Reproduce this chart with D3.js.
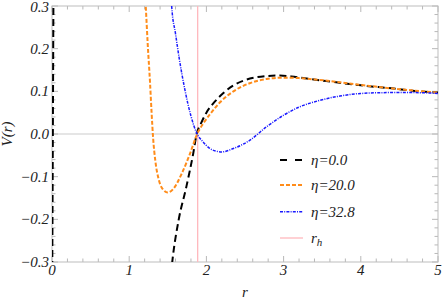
<!DOCTYPE html>
<meta charset="utf-8">
<script src="https://d3js.org/d3.v7.min.js"></script>
<style>
  body { margin: 0; background: #fff; }
  text { font-family: "Liberation Serif", "Times New Roman", "DejaVu Serif", serif; font-style: italic; fill: #222; }
</style>
<div id="chart"></div>
<script>

// values: [r, V(r)]
var eta0_inner = [[0.003, -0.34], [0.019, 0.34]];
var eta0 = [[1.54, -0.33], [1.56, -0.296], [1.64, -0.202], [1.74, -0.124], [1.83, -0.045], [1.874, 0],
    [1.93, 0.025], [2.0, 0.05], [2.1, 0.074], [2.22, 0.096], [2.35, 0.114], [2.48, 0.125], [2.62, 0.132],
    [2.8, 0.136], [2.95, 0.137], [3.1, 0.135], [3.3, 0.130], [3.6, 0.123], [4.0, 0.114], [4.4, 0.107],
    [4.7, 0.101], [5.0, 0.097]];
var eta20 = [[1.20, 0.34], [1.214, 0.3], [1.24, 0.21], [1.27, 0.12], [1.29, 0.05], [1.31, -0.01],
    [1.34, -0.065], [1.38, -0.105], [1.43, -0.128], [1.50, -0.137], [1.57, -0.129], [1.68, -0.093],
    [1.79, -0.045], [1.88, 0], [1.96, 0.025], [2.05, 0.047], [2.18, 0.075], [2.35, 0.1], [2.56, 0.119],
    [2.78, 0.129], [3.0, 0.132], [3.2, 0.131], [3.45, 0.127], [4.0, 0.115], [4.5, 0.105], [5.0, 0.097]];
var eta328 = [[1.54, 0.33], [1.55, 0.3], [1.60, 0.235], [1.65, 0.175], [1.72, 0.105], [1.80, 0.042],
    [1.88, 0], [1.95, -0.017], [2.03, -0.032], [2.12, -0.040], [2.2, -0.042], [2.35, -0.034],
    [2.56, -0.015], [2.78, 0.017], [3.0, 0.044], [3.2, 0.063], [3.45, 0.078], [3.73, 0.089],
    [4.0, 0.095], [4.35, 0.097], [4.7, 0.097], [5.0, 0.095]];
var rh = 1.887;

var xTicks = [0, 1, 2, 3, 4, 5];
var yTicks = [-0.3, -0.2, -0.1, 0.0, 0.1, 0.2, 0.3];
var legendLabels = ["η=0.0", "η=20.0", "η=32.8", "r_h"];

var W = 442, H = 300;
var margin = { top: 6, right: 4, bottom: 38, left: 52 },
    width = W - margin.left - margin.right,
    height = H - margin.top - margin.bottom;

var svg = d3.select("#chart").append("svg")
    .attr("width", W).attr("height", H);
var g = svg.append("g")
    .attr("transform", "translate(" + margin.left + "," + margin.top + ")");

var x = d3.scaleLinear().domain([0, 5]).range([0, width]);
var y = d3.scaleLinear().domain([-0.3, 0.3]).range([height, 0]);

g.append("clipPath").attr("id", "clip")
    .append("rect").attr("width", width).attr("height", height);

// zero line
g.append("line")
    .attr("x1", 0).attr("x2", width)
    .attr("y1", y(0)).attr("y2", y(0))
    .attr("stroke", "#dcdcdc").attr("stroke-width", 1.5);

// frame with inward ticks, Mathematica style
var tickCol = "#b8b8b8";
var xMinor = d3.range(0, 5.001, 0.2), yMinor = d3.range(-0.3, 0.3001, 0.02);
function isMajor(v, step) { return Math.abs(v / step - Math.round(v / step)) < 1e-6; }

g.selectAll(".xt").data(xMinor).enter().append("line")
    .attr("x1", function (d) { return x(d); }).attr("x2", function (d) { return x(d); })
    .attr("y1", height).attr("y2", function (d) { return height - (isMajor(d, 1) ? 6 : 3.5); })
    .attr("stroke", tickCol);
g.selectAll(".xtt").data(xMinor).enter().append("line")
    .attr("x1", function (d) { return x(d); }).attr("x2", function (d) { return x(d); })
    .attr("y1", 0).attr("y2", function (d) { return isMajor(d, 1) ? 6 : 3.5; })
    .attr("stroke", tickCol);
g.selectAll(".yt").data(yMinor).enter().append("line")
    .attr("y1", function (d) { return y(d); }).attr("y2", function (d) { return y(d); })
    .attr("x1", 0).attr("x2", function (d) { return isMajor(d, 0.1) ? 6 : 3.5; })
    .attr("stroke", tickCol);
g.selectAll(".ytr").data(yMinor).enter().append("line")
    .attr("y1", function (d) { return y(d); }).attr("y2", function (d) { return y(d); })
    .attr("x1", width).attr("x2", function (d) { return width - (isMajor(d, 0.1) ? 6 : 3.5); })
    .attr("stroke", tickCol);
g.append("rect").attr("width", width).attr("height", height)
    .attr("fill", "none").attr("stroke", "#bdbdbd");

// tick labels
g.selectAll(".xl").data(xTicks).enter().append("text")
    .attr("x", function (d) { return x(d); }).attr("y", height + 13)
    .attr("text-anchor", "middle").style("font-size", "15px")
    .text(function (d) { return d; });
g.selectAll(".yl").data(yTicks).enter().append("text")
    .attr("x", -3).attr("y", function (d) { return y(d) + (d === 0.3 ? 6 : 5); })
    .attr("text-anchor", "end").style("font-size", "15px")
    .text(d3.format(".1f"));

// axis titles
svg.append("text").attr("x", margin.left + x(2.5)).attr("y", 297)
    .attr("text-anchor", "middle").style("font-size", "15px").text("r");
svg.append("text").attr("transform", "translate(12," + (margin.top + y(0)) + ") rotate(-90)")
    .attr("text-anchor", "middle").style("font-size", "15px").text("V(r)");

// curves
var line = d3.line()
    .x(function (d) { return x(d[0]); })
    .y(function (d) { return y(d[1]); })
    .curve(d3.curveMonotoneX);

var plot = g.append("g").attr("clip-path", "url(#clip)");

plot.append("line")
    .attr("x1", x(rh)).attr("x2", x(rh)).attr("y1", 0).attr("y2", height)
    .attr("stroke", "#ffb8bd").attr("stroke-width", 1.3);

var styles = [
    { color: "#000", dash: "7,4", legDash: "7,8", w: 2 },
    { color: "#ff8c1a", dash: "4,2", legDash: "4,2", w: 2 },
    { color: "#1a1aff", dash: "3,1.2,1,1.2", legDash: "3,1.2,1,1.2", w: 1.5 },
    { color: "#ffb8bd", dash: null, legDash: null, w: 1.3 }
];

var series = [
    { data: eta0_inner, s: styles[0] },
    { data: eta0, s: styles[0] },
    { data: eta20, s: styles[1] },
    { data: eta328, s: styles[2] }
];
series.forEach(function (sr) {
    plot.append("path").datum(sr.data)
        .attr("d", line)
        .attr("fill", "none")
        .attr("stroke", sr.s.color)
        .attr("stroke-width", sr.s.w)
        .attr("stroke-dasharray", sr.s.dash);
});

// legend
var legY = [154, 179, 205.7, 232];
var leg = g.selectAll(".leg").data(legendLabels).enter().append("g")
    .attr("transform", function (d, i) { return "translate(228," + legY[i] + ")"; });
leg.append("line")
    .attr("x1", 0).attr("x2", 23)
    .attr("stroke", function (d, i) { return styles[i].color; })
    .attr("stroke-width", function (d, i) { return styles[i].w; })
    .attr("stroke-dasharray", function (d, i) { return styles[i].legDash; });
leg.append("text").attr("x", 31).attr("y", 5).style("font-size", "15px")
    .each(function (d) {
        var t = d3.select(this);
        if (d === "r_h") {
            t.append("tspan").text("r");
            t.append("tspan").attr("dy", 3).style("font-size", "11px").text("h");
        } else {
            t.text(d);
        }
    });

</script>
